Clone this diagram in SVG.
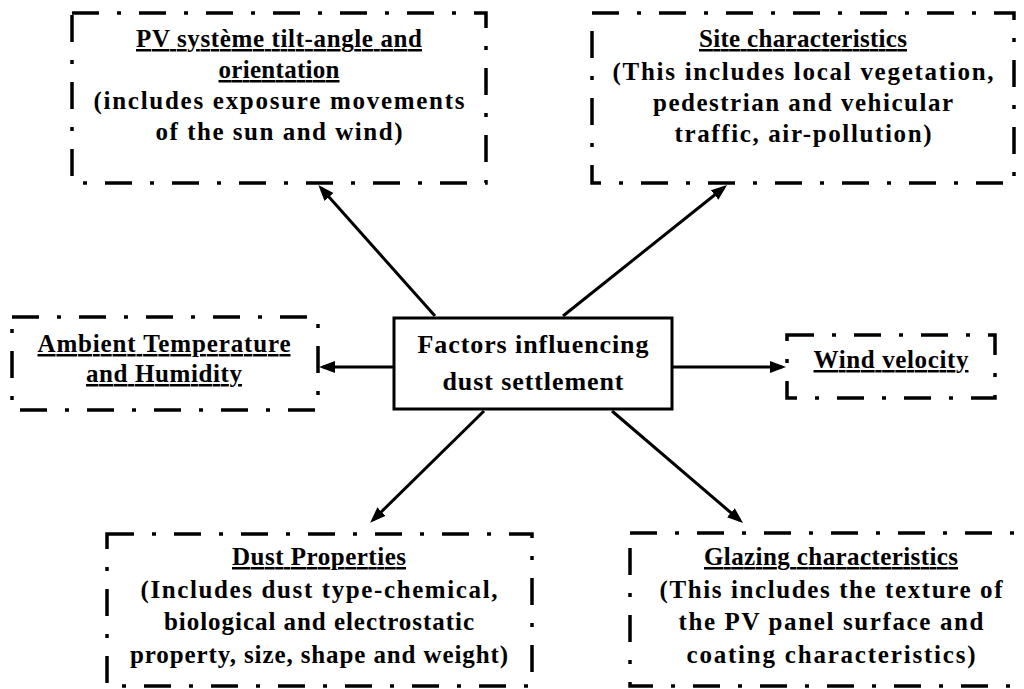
<svg xmlns="http://www.w3.org/2000/svg" width="1024" height="689" viewBox="0 0 1024 689">
  <style>
    .dd { fill: #ffffff; stroke: #000000; stroke-width: 3.5; stroke-dasharray: 27 18 4 18; }
    .solid { fill: #ffffff; stroke: #000000; stroke-width: 3; }
    .t { font-family: "Liberation Serif", "Times New Roman", serif; font-weight: bold; font-size: 25px; fill: #000000; text-anchor: middle; }
    .c { font-size: 26px; }
    .u { text-decoration: underline; }
    .conn { stroke: #000000; stroke-width: 3; fill: none; marker-end: url(#arrow); }
  </style>
  <defs>
    <marker id="arrow" markerUnits="userSpaceOnUse" markerWidth="18" markerHeight="16" viewBox="0 0 18 16" refX="12" refY="8" orient="auto">
      <path d="M0,2 L16,8 L0,14 Z" fill="#000000"/>
    </marker>
  </defs>
  <rect width="1024" height="689" fill="#ffffff"/>

  <g id="connectors">
    <line class="conn" x1="435" y1="316" x2="321" y2="188"/>
    <line class="conn" x1="563" y1="316" x2="724" y2="187.5"/>
    <line class="conn" x1="394" y1="367" x2="323" y2="367"/>
    <line class="conn" x1="672" y1="367" x2="782" y2="367"/>
    <line class="conn" x1="484" y1="411" x2="373" y2="520"/>
    <line class="conn" x1="612" y1="411" x2="740" y2="520.5"/>
  </g>

  <g id="center">
    <rect class="solid" x="394" y="318" width="278" height="91"/>
    <text class="t c" x="533" y="353" textLength="231" lengthAdjust="spacing">Factors influencing</text>
    <text class="t c" x="533" y="390" textLength="181" lengthAdjust="spacing">dust settlement</text>
  </g>

  <g id="pv-tilt">
    <rect class="dd" x="72" y="13" width="414" height="170"/>
    <text class="t u" x="279" y="47" textLength="286" lengthAdjust="spacing">PV système tilt-angle and</text>
    <text class="t u" x="279" y="78" textLength="121" lengthAdjust="spacing">orientation</text>
    <text class="t" x="279" y="109" textLength="371" lengthAdjust="spacing">(includes exposure movements</text>
    <text class="t" x="279" y="140" textLength="247" lengthAdjust="spacing">of the sun and wind)</text>
  </g>

  <g id="site">
    <rect class="dd" x="592" y="13" width="422" height="170"/>
    <text class="t u" x="803" y="47" textLength="208" lengthAdjust="spacing">Site characteristics</text>
    <text class="t" x="803" y="80" textLength="381" lengthAdjust="spacing">(This includes local vegetation,</text>
    <text class="t" x="803" y="111" textLength="300" lengthAdjust="spacing">pedestrian and vehicular</text>
    <text class="t" x="803" y="142" textLength="257" lengthAdjust="spacing">traffic, air-pollution)</text>
  </g>

  <g id="ambient">
    <rect class="dd" x="12" y="317" width="306" height="93"/>
    <text class="t u" x="164" y="352" textLength="253" lengthAdjust="spacing">Ambient Temperature</text>
    <text class="t u" x="164" y="382" textLength="156" lengthAdjust="spacing">and Humidity</text>
  </g>

  <g id="wind">
    <rect class="dd" x="787" y="335" width="208" height="63"/>
    <text class="t u" x="891" y="368" textLength="155" lengthAdjust="spacing">Wind velocity</text>
  </g>

  <g id="dust">
    <rect class="dd" x="107" y="534" width="425" height="152"/>
    <text class="t u" x="319" y="565" textLength="174" lengthAdjust="spacing">Dust Properties</text>
    <text class="t" x="319" y="598" textLength="357" lengthAdjust="spacing">(Includes dust type-chemical,</text>
    <text class="t" x="319" y="630" textLength="310" lengthAdjust="spacing">biological and electrostatic</text>
    <text class="t" x="319" y="663" textLength="378" lengthAdjust="spacing">property, size, shape and weight)</text>
  </g>

  <g id="glazing">
    <rect class="dd" x="630" y="533" width="404" height="153"/>
    <text class="t u" x="831" y="565" textLength="254" lengthAdjust="spacing">Glazing characteristics</text>
    <text class="t" x="831" y="598" textLength="343" lengthAdjust="spacing">(This includes the texture of</text>
    <text class="t" x="831" y="630" textLength="305" lengthAdjust="spacing">the PV panel surface and</text>
    <text class="t" x="831" y="663" textLength="289" lengthAdjust="spacing">coating characteristics)</text>
  </g>
</svg>
